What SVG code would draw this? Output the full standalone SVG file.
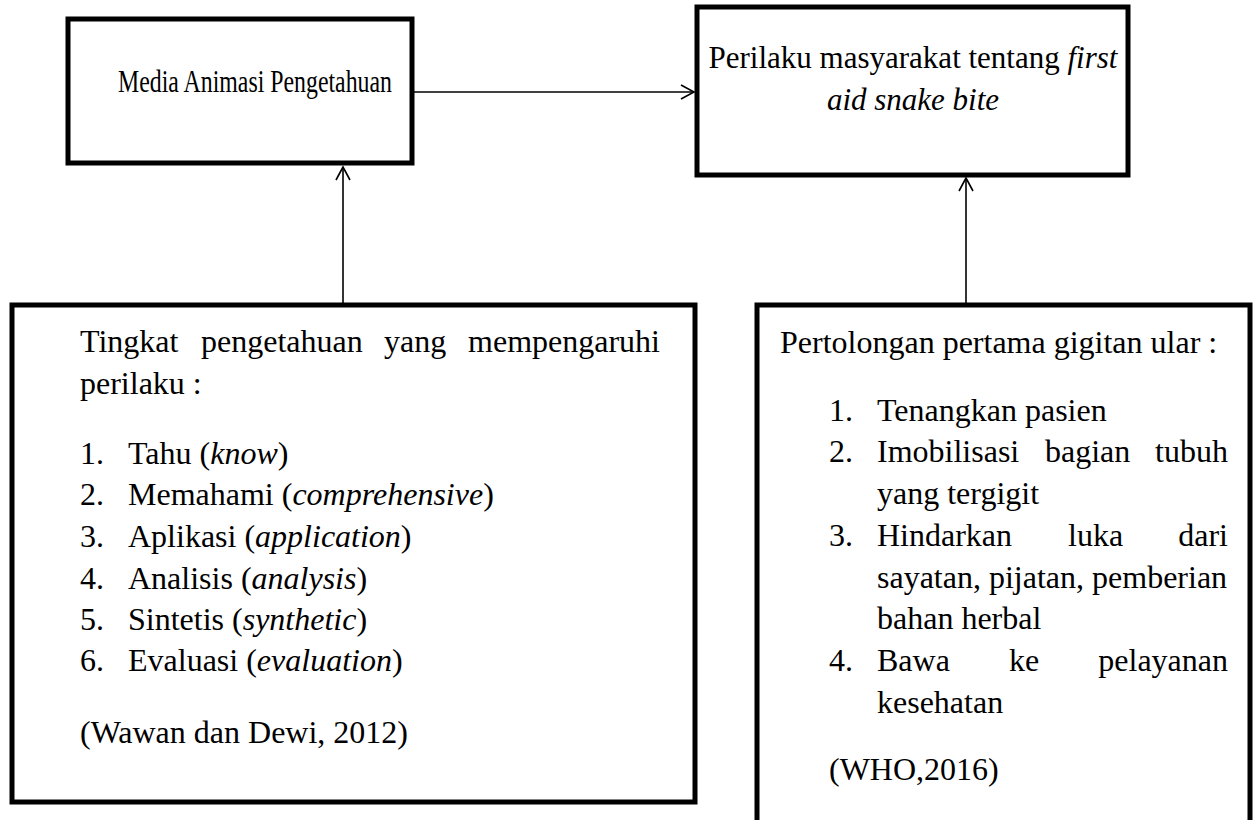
<svg xmlns="http://www.w3.org/2000/svg" width="1259" height="820" viewBox="0 0 1259 820">
<style>
.box{fill:#fff;stroke:#000;stroke-width:5}
.t{font-family:"Liberation Serif","Times New Roman",serif;font-size:32px;fill:#000}
.t1{font-family:"Liberation Serif","Times New Roman",serif;font-size:31px;fill:#000}
.t2{font-family:"Liberation Serif","Times New Roman",serif;font-size:31px;fill:#000}
.i{font-style:italic}
.c{stroke:#000;stroke-width:1.6;fill:none}
</style>
<defs>
<marker id="ah" markerUnits="userSpaceOnUse" markerWidth="20" markerHeight="20" refX="14" refY="8" orient="auto">
<path d="M1,1 L14,8 L1,15" fill="none" stroke="#000" stroke-width="1.6"/>
</marker>
</defs>
<rect width="1259" height="820" fill="#fff"/>
<g id="connectors">
<line class="c" x1="413" y1="92" x2="694" y2="92" marker-end="url(#ah)"/>
<line class="c" x1="343" y1="303" x2="343" y2="167" marker-end="url(#ah)"/>
<line class="c" x1="966" y1="303" x2="966" y2="178" marker-end="url(#ah)"/>
</g>
<g id="media">
<rect class="box" x="68" y="19" width="344" height="144"/>
<text class="t1" x="118" y="92" textLength="274" lengthAdjust="spacingAndGlyphs">Media Animasi Pengetahuan</text>
</g>
<g id="perilaku">
<rect class="box" x="697" y="7" width="431" height="168"/>
<text class="t2" x="913" y="68" text-anchor="middle">Perilaku masyarakat tentang <tspan class="i">first</tspan></text>
<text class="t2 i" x="913" y="110" text-anchor="middle">aid snake bite</text>
</g>
<g id="tingkat">
<rect class="box" x="12" y="305" width="683" height="497"/>
<text class="t" y="352"><tspan x="80">Tingkat</tspan><tspan x="201">pengetahuan</tspan><tspan x="384">yang</tspan></text>
<text class="t" x="660" y="352" text-anchor="end">mempengaruhi</text>
<text class="t" x="80" y="394">perilaku :</text>
<text class="t" y="464"><tspan x="80">1.</tspan><tspan x="128">Tahu (</tspan><tspan class="i">know</tspan><tspan>)</tspan></text>
<text class="t" y="505"><tspan x="80">2.</tspan><tspan x="128">Memahami (</tspan><tspan class="i">comprehensive</tspan><tspan>)</tspan></text>
<text class="t" y="547"><tspan x="80">3.</tspan><tspan x="128">Aplikasi (</tspan><tspan class="i">application</tspan><tspan>)</tspan></text>
<text class="t" y="589"><tspan x="80">4.</tspan><tspan x="128">Analisis (</tspan><tspan class="i">analysis</tspan><tspan>)</tspan></text>
<text class="t" y="630"><tspan x="80">5.</tspan><tspan x="128">Sintetis (</tspan><tspan class="i">synthetic</tspan><tspan>)</tspan></text>
<text class="t" y="671"><tspan x="80">6.</tspan><tspan x="128">Evaluasi (</tspan><tspan class="i">evaluation</tspan><tspan>)</tspan></text>
<text class="t" x="80" y="743">(Wawan dan Dewi, 2012)</text>
</g>
<g id="pertolongan">
<rect class="box" x="757" y="305" width="493" height="540"/>
<text class="t" x="780" y="353">Pertolongan pertama gigitan ular :</text>
<text class="t" y="421"><tspan x="829">1.</tspan><tspan x="877">Tenangkan pasien</tspan></text>
<text class="t" y="462"><tspan x="829">2.</tspan><tspan x="877">Imobilisasi</tspan><tspan x="1045">bagian</tspan></text>
<text class="t" x="1228" y="462" text-anchor="end">tubuh</text>
<text class="t" x="877" y="504">yang tergigit</text>
<text class="t" y="546"><tspan x="829">3.</tspan><tspan x="877">Hindarkan</tspan><tspan x="1068">luka</tspan></text>
<text class="t" x="1228" y="546" text-anchor="end">dari</text>
<text class="t" x="877" y="588">sayatan, pijatan, pemberian</text>
<text class="t" x="877" y="629">bahan herbal</text>
<text class="t" y="671"><tspan x="829">4.</tspan><tspan x="877">Bawa</tspan><tspan x="1009">ke</tspan></text>
<text class="t" x="1228" y="671" text-anchor="end">pelayanan</text>
<text class="t" x="877" y="713">kesehatan</text>
<text class="t" x="829" y="780">(WHO,2016)</text>
</g>
</svg>
